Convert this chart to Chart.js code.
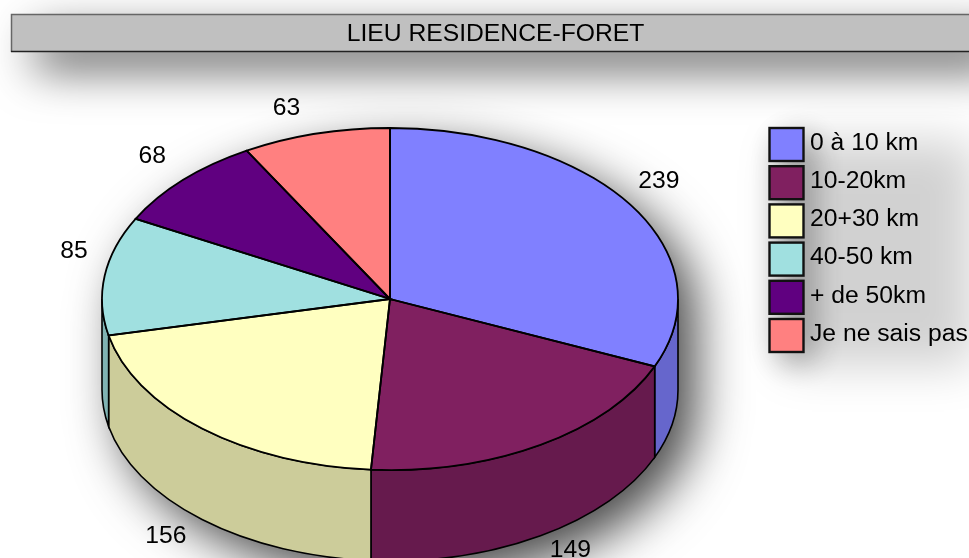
<!DOCTYPE html>
<html>
<head>
<meta charset="utf-8">
<title>LIEU RESIDENCE-FORET</title>
<script src="https://cdn.jsdelivr.net/npm/chart.js@4/dist/chart.umd.min.js"></script>
<style>
  html, body { margin: 0; padding: 0; background: #fff; overflow: hidden; }
  #wrap { width: 969px; height: 558px; }
</style>
</head>
<body>
<div id="wrap"><canvas id="pie"></canvas></div>
<script>
const categories = ["0 à 10 km", "10-20km", "20+30 km", "40-50 km", "+ de 50km", "Je ne sais pas"];
const values = [239, 149, 156, 85, 68, 63];
const sliceColors = ["#8080ff", "#802060", "#ffffc0", "#a0e0e0", "#600080", "#ff8080"];
const wallColors = ["#6666cc", "#661a4d", "#cccc9a", "#80b3b3", "#4d0066", "#cc6666"];
const chartTitle = "LIEU RESIDENCE-FORET";

// tilted disc, in page pixels
const disc = { x: 390, y: 299, rx: 288, ry: 171, depth: 91 };
const FONT = '"Liberation Sans", Arial, sans-serif';
const TEXT_SIZE = 24.7;
// small per-label corrections, the old chart did not place them very evenly
const labelNudge = [[-5, -2], [9, 1], [-10, 7], [9, -19], [-2, 4], [-19, 13]];

function softShadow(ctx, dx, dy, blur, color, path) {
  // shape is drawn off canvas, only its shadow lands on the page
  ctx.save();
  ctx.shadowColor = color;
  ctx.shadowBlur = blur;
  ctx.shadowOffsetX = 3000 + dx;
  ctx.shadowOffsetY = dy;
  ctx.translate(-3000, 0);
  ctx.fillStyle = "#000";
  ctx.beginPath();
  path();
  ctx.fill();
  ctx.restore();
}

const tiltedPie = {
  id: "tiltedPie",
  beforeDraw(chart) {
    const ctx = chart.ctx;
    // title bar
    softShadow(ctx, 24, 18, 46, "rgba(0,0,0,0.62)", () => ctx.rect(11, 14, 968, 38));
    ctx.fillStyle = "#c0c0c0";
    ctx.fillRect(11, 14, 968, 38);
    ctx.lineWidth = 1.5;
    ctx.strokeStyle = "#666";
    ctx.beginPath();
    ctx.moveTo(11.5, 52); ctx.lineTo(11.5, 14.5); ctx.lineTo(979, 14.5);
    ctx.stroke();
    ctx.strokeStyle = "#222";
    ctx.beginPath();
    ctx.moveTo(11, 51.5); ctx.lineTo(979, 51.5);
    ctx.stroke();

    // legend shadow
    softShadow(ctx, 14, 14, 44, "rgba(0,0,0,0.18)", () => ctx.rect(769, 127, 190, 225));
    softShadow(ctx, 10, 10, 30, "rgba(0,0,0,0.32)", () => ctx.rect(769, 127, 36, 225));

    // disc shadow, top face and bottom face together
    softShadow(ctx, 18, 18, 50, "rgba(0,0,0,0.72)", () => {
      ctx.ellipse(disc.x, disc.y, disc.rx, disc.ry, 0, Math.PI, 0);
      ctx.ellipse(disc.x, disc.y + disc.depth, disc.rx, disc.ry, 0, 0, Math.PI);
      ctx.closePath();
    });

    // side walls, only the front half of each arc can be seen
    chart.getDatasetMeta(0).data.forEach((arc, i) => {
      const from = Math.max(arc.startAngle, 0);
      const to = Math.min(arc.endAngle, Math.PI);
      if (to <= from) return;
      ctx.beginPath();
      ctx.ellipse(disc.x, disc.y, disc.rx, disc.ry, 0, from, to);
      ctx.ellipse(disc.x, disc.y + disc.depth, disc.rx, disc.ry, 0, to, from, true);
      ctx.closePath();
      ctx.fillStyle = wallColors[i];
      ctx.fill();
      ctx.lineWidth = 1.6;
      ctx.strokeStyle = "#000";
      ctx.stroke();
    });

    // legend
    ctx.font = TEXT_SIZE + "px " + FONT;
    ctx.textBaseline = "middle";
    ctx.textAlign = "left";
    categories.forEach((name, i) => {
      const top = 127 + i * 38.2;
      ctx.fillStyle = sliceColors[i];
      ctx.fillRect(769, top + 1, 35, 33);
      ctx.lineWidth = 2.4;
      ctx.strokeStyle = "#111";
      ctx.strokeRect(769.5, top + 1, 34, 33);
      ctx.fillStyle = "#000";
      ctx.fillText(name, 810, top + 16);
    });
  },
  beforeDatasetsDraw(chart) {
    const ctx = chart.ctx;
    const arc = chart.getDatasetMeta(0).data[0];
    ctx.save();
    ctx.translate(disc.x, disc.y);
    ctx.scale(disc.rx / arc.outerRadius, disc.ry / arc.outerRadius);
    ctx.translate(-arc.x, -arc.y);
  },
  afterDatasetsDraw(chart) {
    const ctx = chart.ctx;
    ctx.restore();
    const arcs = chart.getDatasetMeta(0).data;
    // outlines after the fills so the line weight stays even
    ctx.lineWidth = 1.8;
    ctx.strokeStyle = "#000";
    arcs.forEach((arc) => {
      ctx.beginPath();
      ctx.moveTo(disc.x, disc.y);
      ctx.ellipse(disc.x, disc.y, disc.rx, disc.ry, 0, arc.startAngle, arc.endAngle);
      ctx.closePath();
      ctx.stroke();
    });
    // value labels around the disc
    ctx.font = TEXT_SIZE + "px " + FONT;
    ctx.fillStyle = "#000";
    ctx.textAlign = "center";
    ctx.textBaseline = "middle";
    arcs.forEach((arc, i) => {
      const mid = (arc.startAngle + arc.endAngle) / 2;
      const sin = Math.sin(mid);
      const x = disc.x + Math.cos(mid) * (disc.rx + 40) + labelNudge[i][0];
      const y = disc.y + sin * (disc.ry + 40) + (sin > 0 ? 70 : 0) + labelNudge[i][1];
      ctx.fillText(String(values[i]), x, y);
    });
  }
};

new Chart(document.getElementById("pie"), {
  type: "pie",
  plugins: [tiltedPie],
  data: {
    labels: categories,
    datasets: [{
      data: values,
      backgroundColor: sliceColors,
      borderWidth: 0
    }]
  },
  options: {
    responsive: true,
    maintainAspectRatio: false,
    animation: false,
    layout: { padding: { left: 22, right: 0 } },
    plugins: {
      legend: { display: false },
      tooltip: { enabled: false },
      title: {
        display: true,
        text: chartTitle,
        color: "#000",
        font: { family: FONT, size: TEXT_SIZE, weight: "normal" },
        padding: { top: 19, bottom: 10 }
      }
    }
  }
});
</script>
</body>
</html>
